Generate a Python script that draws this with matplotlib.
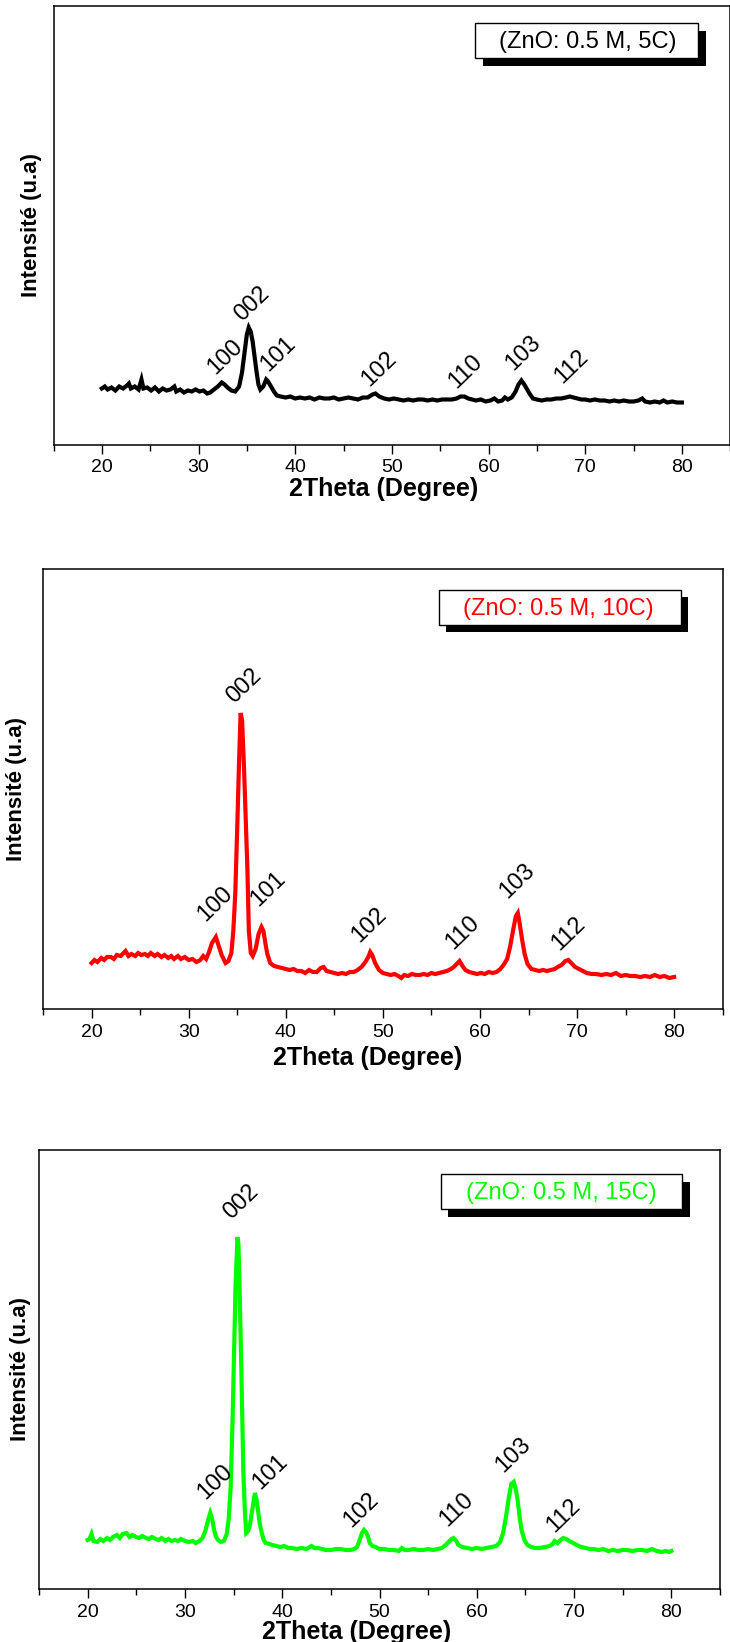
import matplotlib
matplotlib.use("Agg")
import matplotlib.pyplot as plt
from matplotlib.patches import Rectangle
from matplotlib.ticker import MultipleLocator, NullLocator

plt.rcParams['font.family'] = ['Liberation Sans', 'DejaVu Sans']

# ---------------------------------------------------------------- data
# XRD scans of ZnO films (0.5 M) for three deposition cycle counts.
# Intensity in arbitrary units.
two_theta_5c = [
    20.0, 20.3, 20.6, 21.0, 21.4, 21.8, 22.2, 22.6, 22.8, 23.0, 23.4, 23.8, 24.1, 24.3,
    24.7, 25.1, 25.5, 25.9, 26.3, 26.7, 27.1, 27.5, 27.7, 28.1, 28.5, 28.9, 29.3, 29.7,
    30.1, 30.5, 30.9, 31.2, 31.6, 32.0, 32.4, 32.7, 33.0, 33.4, 33.8, 34.2, 34.5, 34.8,
    35.0, 35.2, 35.4, 35.6, 35.8, 36.0, 36.2, 36.4, 36.7, 37.0, 37.2, 37.5, 37.8, 38.1,
    38.5, 39.0, 39.5, 40.0, 40.5, 41.0, 41.5, 42.0, 42.5, 43.0, 43.5, 44.0, 44.5, 45.0,
    45.5, 46.0, 46.5, 47.0, 47.5, 48.0, 48.3, 48.7, 49.2, 49.7, 50.2, 50.7, 51.2, 51.7,
    52.2, 52.7, 53.2, 53.7, 54.2, 54.7, 55.2, 55.7, 56.2, 56.7, 57.1, 57.5, 57.9, 58.3,
    58.7, 59.2, 59.7, 60.2, 60.6, 61.0, 61.4, 61.7, 62.0, 62.4, 62.8, 63.1, 63.4, 63.7,
    64.0, 64.3, 64.6, 65.0, 65.5, 66.0, 66.5, 67.0, 67.5, 68.0, 68.4, 68.8, 69.2, 69.6,
    70.0, 70.5, 71.0, 71.5, 72.0, 72.5, 73.0, 73.5, 74.0, 74.5, 75.0, 75.5, 75.9, 76.2,
    76.7, 77.2, 77.7, 78.1, 78.5, 79.0, 79.5, 80.0]
intensity_5c = [
    56, 58, 55, 57, 54, 58, 56, 59, 61, 56, 58, 55, 65, 56,
    57, 54, 57, 53, 56, 54, 55, 58, 53, 55, 52, 54, 53, 55,
    53, 54, 51, 52, 55, 58, 62, 60, 57, 54, 53, 58, 72, 95,
    110, 117, 113, 103, 88, 73, 60, 55, 58, 65, 63, 58, 53, 49,
    48, 47, 48, 46, 47, 46, 47, 45, 47, 46, 46, 47, 45, 46,
    47, 46, 45, 47, 47, 50, 51, 48, 46, 45, 46, 45, 44, 45,
    44, 45, 45, 44, 45, 44, 45, 45, 45, 46, 48, 48, 46, 45,
    44, 45, 43, 44, 46, 43, 44, 47, 45, 47, 53, 60, 64, 60,
    55, 50, 46, 45, 44, 45, 45, 46, 46, 47, 48, 47, 46, 45,
    45, 44, 45, 44, 44, 43, 44, 43, 44, 43, 43, 44, 46, 43,
    42, 43, 42, 44, 42, 43, 42, 42]

two_theta_10c = [
    20.0, 20.3, 20.6, 21.0, 21.3, 21.6, 22.0, 22.3, 22.6, 23.0, 23.3, 23.5, 23.8, 24.1,
    24.5, 24.8, 25.1, 25.5, 25.8, 26.1, 26.5, 26.8, 27.2, 27.5, 27.9, 28.2, 28.5, 28.9,
    29.2, 29.6, 30.0, 30.4, 30.8, 31.2, 31.5, 31.8, 32.1, 32.4, 32.8, 33.1, 33.4, 33.8,
    34.1, 34.4, 34.6, 34.8, 35.0, 35.2, 35.35, 35.5, 35.7, 35.9, 36.05, 36.2, 36.4, 36.6,
    36.9, 37.2, 37.5, 37.7, 37.9, 38.1, 38.4, 38.8, 39.2, 39.6, 40.0, 40.4, 40.8, 41.2,
    41.6, 42.0, 42.4, 42.8, 43.2, 43.6, 43.9, 44.2, 44.6, 45.0, 45.4, 45.8, 46.2, 46.6,
    47.0, 47.4, 47.8, 48.2, 48.5, 48.7, 48.9, 49.2, 49.6, 50.0, 50.4, 50.8, 51.2, 51.6,
    51.9, 52.2, 52.6, 53.0, 53.4, 53.8, 54.2, 54.6, 55.0, 55.4, 55.8, 56.2, 56.6, 57.0,
    57.3, 57.7, 57.9, 58.2, 58.5, 58.9, 59.3, 59.7, 60.1, 60.5, 60.9, 61.3, 61.7, 62.1,
    62.5, 62.8, 63.1, 63.4, 63.7, 63.9, 64.1, 64.3, 64.6, 64.9, 65.3, 65.7, 66.1, 66.5,
    66.9, 67.3, 67.7, 68.0, 68.4, 68.8, 69.1, 69.4, 69.8, 70.2, 70.6, 71.0, 71.5, 72.0,
    72.5, 73.0, 73.5, 74.0, 74.5, 75.0, 75.5, 76.0, 76.5, 77.0, 77.5, 78.0, 78.5, 79.0,
    79.5, 80.0]
intensity_10c = [
    46, 49, 47, 51, 49, 52, 52, 50, 54, 53, 56, 58, 53, 55,
    53, 56, 54, 55, 53, 56, 53, 55, 52, 54, 51, 53, 50, 53,
    50, 52, 49, 50, 47, 49, 53, 50, 57, 66, 72, 63, 54, 46,
    48, 56, 78, 115, 180, 250, 296, 289, 242, 185, 140, 78, 56, 53,
    60, 75, 82, 78, 66, 55, 46, 43, 42, 41, 40, 39, 40, 38,
    38, 36, 39, 37, 37, 41, 42, 38, 37, 36, 35, 36, 35, 37,
    37, 39, 42, 47, 52, 57, 54, 46, 39, 36, 35, 34, 35, 33,
    31, 34, 33, 35, 34, 34, 35, 34, 36, 35, 36, 37, 38, 40,
    42, 46, 48, 43, 39, 37, 36, 35, 36, 35, 37, 36, 37, 40,
    45, 50, 62, 78, 93, 96, 85, 72, 55, 45, 40, 39, 38, 39,
    38, 39, 40, 42, 44, 48, 49, 46, 42, 40, 38, 36, 35, 35,
    34, 35, 34, 36, 33, 34, 33, 33, 32, 33, 32, 34, 32, 33,
    31, 32]

two_theta_15c = [
    20.0, 20.2, 20.4, 20.6, 21.0, 21.3, 21.6, 22.0, 22.3, 22.6, 23.0, 23.3, 23.6, 24.0,
    24.3, 24.6, 25.0, 25.3, 25.6, 26.0, 26.3, 26.6, 27.0, 27.3, 27.6, 28.0, 28.3, 28.6,
    29.0, 29.3, 29.6, 30.0, 30.4, 30.8, 31.1, 31.5, 31.8, 32.1, 32.3, 32.6, 32.8, 33.0,
    33.2, 33.4, 33.7, 34.0, 34.3, 34.5, 34.7, 34.9, 35.05, 35.2, 35.4, 35.5, 35.6, 35.7,
    35.8, 35.9, 36.0, 36.15, 36.3, 36.5, 36.7, 36.9, 37.1, 37.2, 37.35, 37.5, 37.7, 37.9,
    38.1, 38.3, 38.7, 39.0, 39.4, 39.8, 40.2, 40.6, 41.0, 41.5, 42.0, 42.5, 43.0, 43.3,
    43.7, 44.1, 44.5, 45.0, 45.5, 46.0, 46.5, 47.0, 47.4, 47.7, 48.0, 48.2, 48.4, 48.6,
    48.8, 49.0, 49.3, 49.6, 50.0, 50.5, 51.0, 51.5, 52.0, 52.3, 52.6, 53.0, 53.5, 54.0,
    54.5, 55.0, 55.5, 56.0, 56.4, 56.8, 57.1, 57.4, 57.6, 57.9, 58.1, 58.5, 59.0, 59.5,
    60.0, 60.5, 61.0, 61.5, 62.0, 62.4, 62.7, 63.0, 63.3, 63.55, 63.8, 64.0, 64.2, 64.4,
    64.6, 64.9, 65.2, 65.6, 66.0, 66.5, 67.0, 67.5, 67.8, 68.0, 68.3, 68.6, 68.9, 69.2,
    69.5, 69.9, 70.3, 70.7, 71.2, 71.6, 72.0, 72.5, 73.0, 73.5, 74.0, 74.5, 75.0, 75.5,
    76.0, 76.5, 77.0, 77.5, 78.0, 78.5, 79.0, 79.4, 79.8, 80.0]
intensity_15c = [
    49, 50, 55, 48, 47, 50, 48, 51, 49, 52, 54, 51, 55, 56,
    52, 54, 52, 51, 53, 51, 50, 52, 50, 49, 51, 48, 50, 48,
    49, 48, 50, 48, 47, 48, 46, 48, 51, 58, 66, 76, 70, 59,
    52, 49, 47, 48, 55, 70, 102, 170, 235, 302, 352, 345, 309, 265,
    219, 170, 119, 80, 56, 58, 65, 78, 90, 96, 90, 79, 65, 56,
    49, 46, 45, 44, 43, 42, 43, 41, 41, 40, 41, 40, 43, 41,
    41, 40, 39, 39, 40, 40, 39, 39, 40, 42, 50, 56, 59, 57,
    53, 46, 43, 42, 40, 40, 39, 39, 38, 41, 39, 39, 40, 39,
    39, 40, 39, 40, 41, 44, 47, 50, 51, 48, 44, 42, 41, 40,
    41, 40, 41, 42, 43, 47, 56, 72, 92, 105, 107, 100, 89, 72,
    59, 49, 44, 42, 41, 41, 42, 43, 45, 48, 46, 49, 51, 50,
    48, 46, 44, 42, 41, 40, 40, 39, 40, 38, 39, 38, 39, 39,
    38, 39, 39, 38, 40, 38, 37, 38, 37, 38]

hkl_labels = ['100', '002', '101', '102', '110', '103', '112']
sample_names = ['(ZnO: 0.5 M, 5C)', '(ZnO: 0.5 M, 10C)', '(ZnO: 0.5 M, 15C)']
x_tick_values = [20, 30, 40, 50, 60, 70, 80]

# ---------------------------------------------------------------- layout
W, H = 730, 1642
fig = plt.figure(figsize=(W / 100, H / 100), dpi=100)


def fig_frac(x, y):
    return x / W, 1 - y / H


panels = [
    dict(x=two_theta_5c, y=intensity_5c, color='#000000', name=sample_names[0],
         box=(53.5, 5.5, 730.2, 444.5),
         legend=(475, 23.5, 698, 58.5), text_x=499,
         xlabel=(384, 489), ylabel=(31, 225),
         labels=[(32.75, 87), (35.58, 140), (38.27, 90), (48.7, 75),
                 (57.6, 73), (63.6, 91), (68.6, 78)]),
    dict(x=two_theta_10c, y=intensity_10c, color='#ff0000', name=sample_names[1],
         box=(43.0, 569.0, 722.7, 1009.0),
         legend=(439, 590, 681, 625), text_x=463,
         xlabel=(368, 1058), ylabel=(17, 789),
         labels=[(32.79, 105), (35.7, 323), (38.2, 120), (48.65, 84),
                 (58.2, 76), (63.85, 128), (69.1, 75)]),
    dict(x=two_theta_15c, y=intensity_15c, color='#00ff00', name=sample_names[2],
         box=(39.0, 1150.0, 720.0, 1589.0),
         legend=(441, 1174, 682, 1209), text_x=466,
         xlabel=(357, 1632), ylabel=(21, 1369),
         labels=[(33.08, 107), (35.74, 387), (38.74, 117), (48.1, 79),
                 (57.92, 79), (63.75, 134), (68.95, 73)]),
]

for p in panels:
    left, top, right, bottom = p['box']
    ax = fig.add_axes([left / W, 1 - bottom / H, (right - left) / W, (bottom - top) / H])
    ax.plot(p['x'], p['y'], color=p['color'], lw=3.0, solid_joinstyle='miter')
    ax.set_xlim(15, 85)
    ax.set_ylim(0, bottom - top)

    ax.xaxis.set_major_locator(MultipleLocator(10))
    ax.xaxis.set_minor_locator(MultipleLocator(5))
    ax.set_xticks(x_tick_values)
    ax.yaxis.set_major_locator(NullLocator())
    ax.tick_params(axis='x', which='major', direction='out', length=6.5, width=1.0,
                   labelsize=14, pad=4)
    ax.tick_params(axis='x', which='minor', direction='out', length=4.3, width=1.0)
    for s in ax.spines.values():
        s.set_linewidth(1.1)

    ax.set_xlabel('2Theta (Degree)', fontsize=18, fontweight='bold')
    ax.xaxis.label.set_va('center')
    ax.xaxis.set_label_coords((p['xlabel'][0] - left) / (right - left),
                              (bottom - p['xlabel'][1]) / (bottom - top))
    ax.set_ylabel('Intensité (u.a)', fontsize=16, fontweight='bold')
    ax.yaxis.label.set_va('center')
    ax.yaxis.set_label_coords((p['ylabel'][0] - left) / (right - left),
                              (bottom - p['ylabel'][1]) / (bottom - top))

    for lab, (lx, ly) in zip(hkl_labels, p['labels']):
        ax.text(lx, ly, lab, rotation=44, ha='center', va='center',
                rotation_mode='anchor', fontsize=17, color='black')

    # legend box with drop shadow
    bx0, by0, bx1, by1 = p['legend']
    off = 7.5
    sx, sy = fig_frac(bx0 + off, by1 + off)
    fig.add_artist(Rectangle((sx, sy), (bx1 - bx0) / W, (by1 - by0) / H,
                             transform=fig.transFigure, facecolor='black',
                             edgecolor='black', lw=0))
    fx, fy = fig_frac(bx0, by1)
    fig.add_artist(Rectangle((fx, fy), (bx1 - bx0) / W, (by1 - by0) / H,
                             transform=fig.transFigure, facecolor='white',
                             edgecolor='black', lw=1.0))
    tx, ty = fig_frac(p['text_x'], (by0 + by1) / 2 + 1)
    fig.text(tx, ty, p['name'], color=p['color'], fontsize=17, ha='left', va='center')

fig.savefig('out.png', dpi=100, facecolor='white')
